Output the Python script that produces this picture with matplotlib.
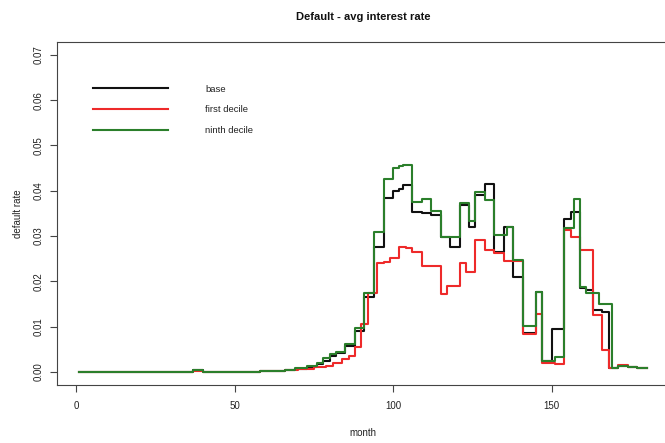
import matplotlib
matplotlib.use("Agg")
import matplotlib.pyplot as plt

plt.rcParams["font.family"] = ["Liberation Sans", "DejaVu Sans"]

# Default rate by month: each series is stored as the months where its value
# changes, with the value holding until the next listed month.
base_months = [1, 37, 40, 58, 66, 69, 73, 76, 78, 80, 82, 85, 88, 91, 94, 97,
               100, 102, 103, 106, 109, 112, 115, 118, 121, 124, 126, 129, 132,
               135, 138, 141, 145, 147, 150, 154, 156, 159, 161, 163, 166, 168,
               171, 174, 177, 180]
base_rate = [0.0000, 0.0004, 0.0001, 0.0002, 0.0005, 0.0007, 0.0011, 0.0017,
             0.0025, 0.0035, 0.0042, 0.0058, 0.0090, 0.0166, 0.0277, 0.0385,
             0.0400, 0.0403, 0.0413, 0.0354, 0.0351, 0.0347, 0.0298, 0.0277,
             0.0369, 0.0321, 0.0390, 0.0416, 0.0266, 0.0321, 0.0210, 0.0086,
             0.0177, 0.0024, 0.0096, 0.0337, 0.0354, 0.0185, 0.0181, 0.0137,
             0.0132, 0.0008, 0.0013, 0.0010, 0.0008, 0.0008]

first_months = [1, 37, 40, 58, 66, 70, 75, 79, 81, 84, 86, 88, 90, 92, 95, 97,
                99, 102, 104, 106, 109, 115, 117, 121, 123, 126, 129, 132, 135,
                141, 145, 147, 151, 154, 156, 159, 163, 166, 168, 171, 174,
                177, 180]
first_rate = [0.0000, 0.0003, 0.0001, 0.0002, 0.0004, 0.0007, 0.0010, 0.0014,
              0.0021, 0.0028, 0.0035, 0.0056, 0.0106, 0.0175, 0.0240, 0.0242,
              0.0251, 0.0276, 0.0274, 0.0264, 0.0234, 0.0172, 0.0190, 0.0241,
              0.0220, 0.0291, 0.0269, 0.0262, 0.0244, 0.0085, 0.0128, 0.0020,
              0.0018, 0.0313, 0.0299, 0.0269, 0.0126, 0.0049, 0.0008, 0.0016,
              0.0011, 0.0008, 0.0008]

ninth_months = [1, 37, 40, 58, 66, 69, 73, 76, 78, 80, 82, 85, 88, 91, 94, 97,
                100, 102, 103, 106, 109, 112, 115, 121, 124, 126, 129, 132,
                136, 138, 141, 145, 147, 151, 154, 157, 159, 161, 165, 169,
                171, 174, 177, 180]
ninth_rate = [0.0000, 0.0004, 0.0001, 0.0002, 0.0005, 0.0008, 0.0013, 0.0020,
              0.0030, 0.0040, 0.0045, 0.0062, 0.0097, 0.0174, 0.0310, 0.0425,
              0.0450, 0.0455, 0.0458, 0.0376, 0.0382, 0.0356, 0.0298, 0.0374,
              0.0333, 0.0398, 0.0380, 0.0302, 0.0320, 0.0247, 0.0101, 0.0177,
              0.0024, 0.0034, 0.0317, 0.0381, 0.0188, 0.0174, 0.0150, 0.0008,
              0.0013, 0.0010, 0.0008, 0.0008]

series_labels = ["base", "first decile", "ninth decile"]
series_colors = ["#111111", "#ee2a2a", "#2b7f2b"]

x_ticks = [0, 50, 100, 150]
y_ticks = [0.00, 0.01, 0.02, 0.03, 0.04, 0.05, 0.06, 0.07]

W, H = 665, 443
fig = plt.figure(figsize=(W / 100, H / 100), dpi=100)

# plot region in pixels (left, right, top, bottom)
left, right, top, bottom = 56.5, 669.3, 42.2, 384.7
ax = fig.add_axes([left / W, 1 - bottom / H, (right - left) / W, (bottom - top) / H])

series = [(base_months, base_rate), (first_months, first_rate),
          (ninth_months, ninth_rate)]
for (m, r), lab, col in zip(series, series_labels, series_colors):
    ax.plot(m, r, drawstyle="steps-post", color=col, lw=1.5, label=lab)

ax.set_xlim(-6.16, 187.16)
ax.set_ylim(-0.0028, 0.0728)
ax.set_xticks(x_ticks)
ax.set_xticklabels([str(t) for t in x_ticks])
ax.set_yticks(y_ticks)
ax.set_yticklabels([f"{t:.2f}" for t in y_ticks], rotation=90, va="center")

for s in ax.spines.values():
    s.set_color("#444444")
    s.set_linewidth(0.8)
ax.tick_params(axis="both", length=5, width=0.8, color="#444444",
               labelsize=7, labelcolor="#222222")
ax.tick_params(axis="x", pad=7)
ax.tick_params(axis="y", pad=4.5)

ax.set_xlabel("month", fontsize=7, color="#222222")
ax.xaxis.label.set_va("center")
ax.xaxis.set_label_coords(0.5, (bottom - 433) / (bottom - top))
ax.set_ylabel("default rate", fontsize=7, color="#222222")
ax.yaxis.label.set_va("center")
ax.yaxis.set_label_coords((18 - left) / (right - left), 0.5)

ax.set_title("Default - avg interest rate", fontsize=8, fontweight="bold",
             color="#111111", y=(bottom - 17) / (bottom - top), pad=0,
             va="center")

fs = 6.8
leg = ax.legend(loc="upper left", frameon=False, fontsize=fs,
                bbox_to_anchor=(93 / W, 1 - 84.5 / H),
                bbox_transform=fig.transFigure,
                handlelength=7.9, handletextpad=4.0, labelspacing=1.27,
                borderpad=0, borderaxespad=0)
for t in leg.get_texts():
    t.set_color("#222222")

fig.savefig("out.png", dpi=100)
